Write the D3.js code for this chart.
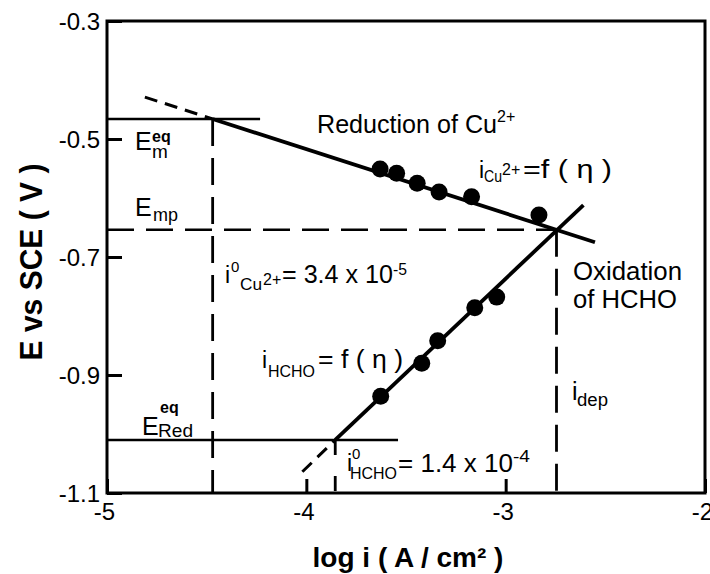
<!DOCTYPE html>
<html><head><meta charset="utf-8">
<script src="https://cdn.jsdelivr.net/npm/d3@7"></script>
<style>body{margin:0;background:#fff}svg{display:block}text{font-family:"Liberation Sans",Arial,Helvetica,sans-serif;fill:#000}</style>
</head><body>
<svg id="c" width="710" height="574"></svg>
<script>
// ---- data ----
const xDomain = [-5, -2];
const yDomain = [-1.1, -0.3];
const xTicks = [-5, -4, -3, -2];
const yTicks = [-0.3, -0.5, -0.7, -0.9, -1.1];
const xTickLabels = ["-5", "-4", "-3", "-2"];
const yTickLabels = ["-0.3", "-0.5", "-0.7", "-0.9", "-1.1"];
// measured points: reduction of Cu2+
const redLogI = [-3.63, -3.547, -3.444, -3.334, -3.171, -2.833];
const redE    = [-0.551, -0.558, -0.575, -0.590, -0.598, -0.629];
// measured points: oxidation of HCHO
const oxLogI = [-3.627, -3.421, -3.341, -3.155, -3.045];
const oxE    = [-0.936, -0.880, -0.842, -0.786, -0.768];
// Tafel fit lines: [dashed start, equilibrium point, end]
const redFitLogI = [-4.81, -4.47, -2.552];
const redFitE    = [-0.429, -0.466, -0.675];
const oxFitLogI  = [-4.02, -3.855, -2.61];
const oxFitE     = [-1.064, -1.010, -0.612];
// characteristic levels
const E_m_eq = -0.466, E_mp = -0.654, E_red_eq = -1.010;
const logI0Cu = -4.47, logI0HCHO = -3.855, logIdep = -2.745;
const EmEqLineEnd = -4.232, EredEqLineEnd = -3.54;

// ---- layout ----
const L = 107, R = 705, T = 21, B = 493;
const x = d3.scaleLinear().domain(xDomain).range([L, R]);
const y = d3.scaleLinear().domain(yDomain).range([B, T]);
const svg = d3.select("#c");

// axes
const ax = svg.append("g").attr("transform", `translate(0,${B})`)
  .call(d3.axisBottom(x).tickValues(xTicks).tickFormat((d, i) => xTickLabels[i]).tickSizeInner(-14).tickSizeOuter(0).tickPadding(10));
const ay = svg.append("g").attr("transform", `translate(${L},0)`)
  .call(d3.axisLeft(y).tickValues(yTicks).tickFormat((d, i) => yTickLabels[i]).tickSizeInner(-15).tickSizeOuter(0).tickPadding(7));
[ax, ay].forEach(g => {
  g.select(".domain").remove();
  g.selectAll("line").attr("stroke", "#000").attr("stroke-width", 3);
  g.selectAll("text").attr("font-size", 24).attr("font-family", '"Liberation Sans",Arial,sans-serif').attr("fill", "#000");
});
ax.selectAll("text").attr("dx", -3);
ay.selectAll("text").attr("dy", "0.35em");

// frame
svg.append("rect").attr("x", L).attr("y", T).attr("width", R - L).attr("height", B - T)
  .attr("fill", "none").attr("stroke", "#000").attr("stroke-width", 3);

const line = d3.line().x(d => x(d[0])).y(d => y(d[1]));
function seg(pts, w, dash) {
  const p = svg.append("path").attr("d", line(pts)).attr("fill", "none").attr("stroke", "#000").attr("stroke-width", w);
  if (dash) p.attr("stroke-dasharray", dash);
  return p;
}

// reference horizontal lines
seg([[xDomain[0], E_m_eq], [EmEqLineEnd, E_m_eq]], 2.5);
seg([[xDomain[0], E_red_eq], [EredEqLineEnd, E_red_eq]], 2.5);
seg([[xDomain[0], E_mp], [logIdep, E_mp]], 2.5, "27,12");
// vertical dashed
seg([[logI0Cu, E_m_eq], [logI0Cu, yDomain[0]]], 2.8, "27,12");
seg([[logIdep, E_mp], [logIdep, yDomain[0]]], 2.8, "27,12");
seg([[logI0HCHO, E_red_eq], [logI0HCHO, yDomain[0]]], 2.8, "15,21");

// fit lines
seg([[redFitLogI[0], redFitE[0]], [redFitLogI[1], redFitE[1]]], 3, "13,8");
seg([[redFitLogI[1], redFitE[1]], [redFitLogI[2], redFitE[2]]], 3.8);
seg([[oxFitLogI[0], oxFitE[0]], [oxFitLogI[1], oxFitE[1]]], 3, "13,8");
seg([[oxFitLogI[1], oxFitE[1]], [oxFitLogI[2], oxFitE[2]]], 3.8);

// points
svg.append("g").selectAll("circle").data(d3.zip(redLogI, redE)).join("circle")
  .attr("cx", d => x(d[0])).attr("cy", d => y(d[1])).attr("r", 8.5).attr("fill", "#000");
svg.append("g").selectAll("circle").data(d3.zip(oxLogI, oxE)).join("circle")
  .attr("cx", d => x(d[0])).attr("cy", d => y(d[1])).attr("r", 8.5).attr("fill", "#000");

// annotation text pieces: [text, x, baseline y, size, width?, weight?]
function label(parts) {
  parts.forEach(p => {
    const t = svg.append("text").attr("x", p[1]).attr("y", p[2]).attr("font-size", p[3]).text(p[0]);
    if (p[4]) t.attr("textLength", p[4]).attr("lengthAdjust", "spacingAndGlyphs");
    if (p[5]) t.attr("font-weight", p[5]);
  });
}
label([["E", 135, 150, 25], ["eq", 152, 142, 16, 0, "bold"], ["m", 152, 158, 19]]);
label([["E", 135, 216, 25], ["mp", 153, 221, 19, 25]]);
label([["E", 142, 435, 25], ["eq", 160, 413, 16, 0, "bold"], ["Red", 158, 437, 18, 35]]);
label([["Reduction of Cu", 317, 133, 25, 180], ["2+", 497, 122, 16]]);
label([["i", 479, 178, 23], ["Cu", 484, 182, 17, 18], ["2+", 502, 175, 16], ["=f ( η )", 523, 178, 25, 89]]);
label([["i", 225, 283, 23], ["0", 231, 272, 15], ["Cu", 240, 290, 17, 22], ["2+", 263, 285, 16], ["= 3.4 x 10", 282, 283, 25, 111], ["-5", 393, 275, 16, 14]]);
label([["i", 262, 368, 23], ["HCHO", 268, 377, 16, 47], ["= f ( η )", 318, 368, 25, 85]]);
label([["i", 347, 471, 23], ["0", 352, 459, 15], ["HCHO", 350, 479, 16, 47], ["= 1.4 x 10", 398, 472, 25, 115], ["-4", 513, 462, 16, 17]]);
label([["Oxidation", 573, 280, 25, 109], ["of HCHO", 573, 308, 25, 104]]);
label([["i", 572, 400, 25], ["dep", 577, 406, 18, 31]]);

// axis titles
svg.append("text").attr("x", 408).attr("y", 567).attr("text-anchor", "middle")
  .attr("font-size", 28).attr("font-weight", "bold").text("log i ( A / cm² )");
svg.append("text").attr("transform", "translate(42,262) rotate(-90)").attr("text-anchor", "middle")
  .attr("font-size", 31).attr("font-weight", "bold").attr("textLength", 197).attr("lengthAdjust", "spacingAndGlyphs")
  .text("E vs SCE ( V )");
</script>
</body></html>
